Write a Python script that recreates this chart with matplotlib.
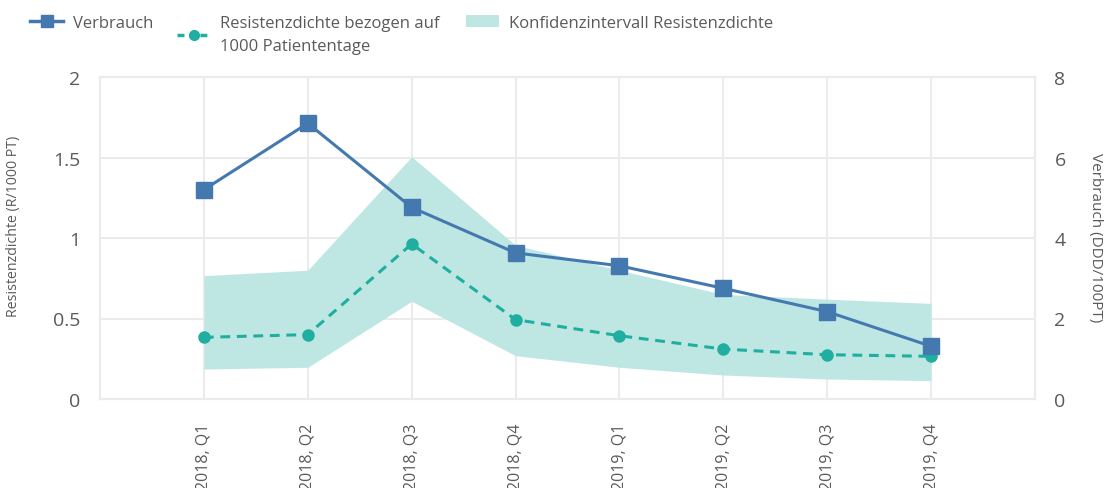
import matplotlib
matplotlib.use("Agg")
import matplotlib.pyplot as plt
from matplotlib.lines import Line2D
from matplotlib.patches import Patch

quarters = ["2018, Q1", "2018, Q2", "2018, Q3", "2018, Q4",
            "2019, Q1", "2019, Q2", "2019, Q3", "2019, Q4"]
verbrauch = [5.2, 6.85, 4.76, 3.63, 3.31, 2.75, 2.17, 1.31]
resistenz = [0.383, 0.40, 0.963, 0.493, 0.393, 0.31, 0.275, 0.265]
ci_upper = [0.766, 0.80, 1.505, 0.955, 0.80, 0.65, 0.62, 0.594]
ci_lower = [0.186, 0.197, 0.607, 0.269, 0.197, 0.149, 0.124, 0.114]

BLUE = "#4479B0"
TEAL = "#1FAE9F"
FILL = "#BEE7E4"
GRID = "#EBEBEB"
TXT = "#5A5A5A"

plt.rcParams['font.family'] = ['Open Sans', 'DejaVu Sans']

W, H = 1115, 489
fig = plt.figure(figsize=(W / 100, H / 100), dpi=100)
ax = fig.add_axes([100 / W, 1 - 400 / H, 935 / W, 322 / H])
ax2 = ax.twinx()

x = list(range(len(quarters)))

ax.fill_between(x, ci_lower, ci_upper, color=FILL, linewidth=0, zorder=1)
ax.plot(x, resistenz, color=TEAL, lw=2.2, ls=(0, (3.2, 2.2)), marker='o', ms=8, zorder=3)
ax2.plot(x, verbrauch, color=BLUE, lw=2.2, marker='s', ms=11, zorder=4)

ax.set_xlim(-1, 8)
ax.set_ylim(0, 2)
ax2.set_ylim(0, 8)
ax.set_xticks(x)
ax.set_xticklabels(quarters, rotation=90, fontsize=11.5, color=TXT)
ax.set_yticks([0, 0.5, 1, 1.5, 2])
ax.set_yticklabels(["0", "0.5", "1", "1.5", "2"])
ax2.set_yticks([0, 2, 4, 6, 8])
ax.tick_params(axis='y', length=0, labelsize=14, labelcolor=TXT, pad=14)
ax.tick_params(axis='x', length=0, pad=17)
ax2.tick_params(axis='y', length=0, labelsize=14, labelcolor=TXT, pad=14)

ax.grid(True, color=GRID, lw=1.5, zorder=0)
ax.set_axisbelow(True)
for a in (ax, ax2):
    for s in a.spines.values():
        s.set_color(GRID)
        s.set_linewidth(1.5)
ax2.set_zorder(ax.get_zorder() + 1)
ax2.patch.set_visible(False)

ax.set_ylabel("Resistenzdichte (R/1000 PT)", fontsize=10.2, color=TXT)
ax.yaxis.set_label_coords((21 - 100) / 935, (400 - 226) / 322)
ax2.set_ylabel("Verbrauch (DDD/100PT)", fontsize=11, color=TXT, rotation=-90)
ax2.yaxis.set_label_coords((1103 - 100) / 935, (400 - 238) / 322)

common = dict(loc='upper left', frameon=False, fontsize=12, handlelength=2.0,
              handletextpad=0.6, borderpad=0, borderaxespad=0, labelcolor=TXT)

top = 1 - 16 / H
l1 = fig.legend([Line2D([], [], color=BLUE, lw=2.5, marker='s', ms=9)],
                ["Verbrauch"], bbox_to_anchor=(30 / W, top), **common)
l2 = fig.legend([Line2D([], [], color=TEAL, lw=2.5, ls=(0, (2, 1.3)), marker='o', ms=7)],
                ["Resistenzdichte bezogen auf\n1000 Patiententage"],
                bbox_to_anchor=(177 / W, top), **common)
for t in l2.get_texts():
    t.set_linespacing(1.6)
l3 = fig.legend([Patch(facecolor=FILL, edgecolor='none')],
                ["Konfidenzintervall Resistenzdichte"],
                bbox_to_anchor=(466 / W, top), **common)

fig.savefig("out.png", dpi=100)
